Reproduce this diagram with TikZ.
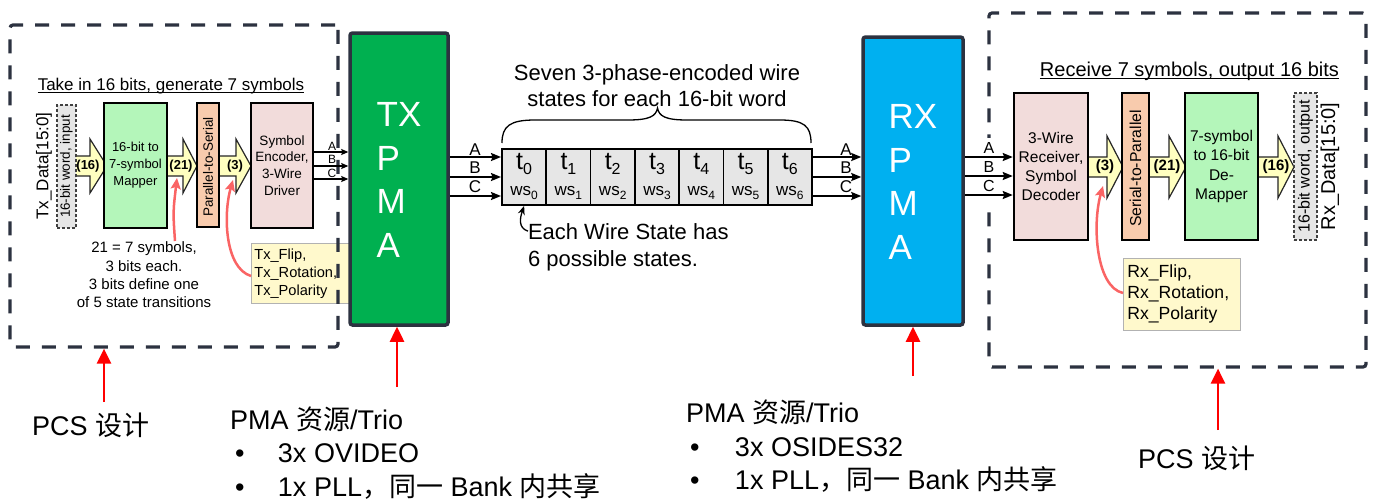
\documentclass[tikz,border=0pt]{standalone}
\usepackage{fontspec}
\setmainfont{Liberation Sans}
\newfontfamily\cjk{Noto Sans CJK SC}
\usetikzlibrary{arrows.meta}
\definecolor{frame}{RGB}{44,50,64}
\definecolor{txgreen}{RGB}{0,176,80}
\definecolor{rxblue}{RGB}{0,176,240}
\definecolor{lgreen}{RGB}{180,246,186}
\definecolor{peach}{RGB}{248,203,173}
\definecolor{lpink}{RGB}{242,220,219}
\definecolor{yell}{RGB}{255,255,192}
\definecolor{notey}{RGB}{255,249,204}
\definecolor{salmon}{RGB}{250,100,100}
\definecolor{cellgray}{RGB}{230,230,230}
\newcommand\fsz[2]{\fontsize{#1}{#2}\selectfont}
\newcommand\mysub[3]{#1\raisebox{-0.22em}{\fsz{#3}{#3}#2}}
\tikzset{
 dashframe/.style={draw=frame, line width=3.2pt, dash pattern=on 14pt off 12pt, rounded corners=3pt, inner sep=0pt},
 pma/.style={draw=frame, line width=3.5pt, rounded corners=2.5pt, inner sep=0pt},
 blk/.style={draw=black, line width=2.5pt, inner sep=0pt},
 iobox/.style={draw=black!75, line width=1.3pt, dash pattern=on 3pt off 2pt, fill=cellgray, inner sep=0pt},
 yarr/.style={draw=black!85, line width=1.2pt, fill=yell},
 lbl/.style={inner sep=0pt, outer sep=0pt},
 notebox/.style={draw=black!30, line width=0.8pt, fill=notey, align=left},
 wcell/.style={draw=black, line width=1.6pt, fill=cellgray, inner sep=0pt},
 sig/.style={line width=1.8pt, -{Stealth[length=10pt,width=8pt,inset=1.5pt]}},
 sigs/.style={line width=1.2pt, -{Stealth[length=7pt,width=6pt,inset=1pt]}},
 redarr/.style={draw=red, line width=2.5pt, -{Triangle[length=15pt,width=14pt]}},
 pinkarr/.style={draw=salmon, line width=2.5pt, -{Stealth[length=11pt,width=10pt,inset=2pt]}},
 bigtxt/.style={font=\fsz{27}{33}},
}
\newcommand\yarrow[6]{\draw[yarr] ({#1},{#4-#5}) -- ({#2},{#4-#5}) -- ({#2},{#4-#6}) -- ({#3},{#4}) -- ({#2},{#4+#6}) -- ({#2},{#4+#5}) -- ({#1},{#4+#5}) -- cycle;}
\begin{document}
\begin{tikzpicture}[x=1pt,y=-1pt]
\fill[white] (0,0) rectangle (1373,499);
\useasboundingbox (0,0) rectangle (1373,499);

%% ---------- left PCS ----------
\node[lbl, anchor=base, font=\fsz{17}{20}] (hdrL) at (171,90) {Take in 16 bits, generate 7 symbols};
\draw[line width=0.9pt] ([yshift=-2pt]hdrL.base west) -- ([yshift=-2pt]hdrL.base east);

\yarrow{75}{90}{107}{166}{10}{27}
\yarrow{166}{183}{197}{166}{10}{27}
\yarrow{219}{236}{251}{166}{10}{27}

\node[iobox, minimum width=19pt, minimum height=123pt] (inbox) at (66.5,166.5) {};
\node[lbl, rotate=90, font=\fsz{13.4}{14}] (inlbl) at (inbox.center) {16-bit word, input};
\node[lbl, rotate=90, font=\fsz{17}{18}] (txdata) at (44,166) {Tx\_Data[15:0]};
\node[blk, fill=lgreen, minimum width=63pt, minimum height=125pt, align=center, font=\fsz{13}{17}] (map) at (135.5,165.5) {16-bit to\\7-symbol\\Mapper};
\node[blk, fill=peach, minimum width=22pt, minimum height=124pt] (p2s) at (208,165) {};
\node[lbl, rotate=90, font=\fsz{13.5}{14}] (p2st) at (208,167) {Parallel-to-Serial};
\node[blk, fill=lpink, minimum width=62pt, minimum height=125pt, align=center, font=\fsz{13.5}{16.7}] (enc) at (282,165.5) {Symbol\\Encoder,\\3-Wire\\Driver};

\node[lbl, font=\bfseries\fsz{13}{13}] (l16) at (88,166) {(16)};
\node[lbl, font=\bfseries\fsz{13}{13}] (l21) at (181,166) {(21)};
\node[lbl, font=\bfseries\fsz{13}{13}] (l3) at (235,166) {(3)};

\node[lbl, align=center, font=\fsz{15}{18.3}] (n21) at (144,275) {21 = 7 symbols,\\3 bits each.\\3 bits define one\\of 5 state transitions};
\node[notebox, anchor=north west, minimum width=101pt, minimum height=60pt, text width=95pt, inner sep=3pt, font=\fsz{14.6}{18}] (txflip) at (251,243) {Tx\_Flip,\\Tx\_Rotation,\\Tx\_Polarity};

\coordinate (q1) at (175,241);
\coordinate (q1e) at (177,178);
\draw[pinkarr] (q1) .. controls (173,212) .. (q1e);
\coordinate (q2e) at (233,180);
\draw[pinkarr] (txflip.west |- 0,276) .. controls (225,268) and (223,215) .. (q2e);

\node[dashframe, minimum width=328pt, minimum height=322pt] (pcsL) at (174,186) {};

%% ---------- TX PMA ----------
\node[pma, fill=txgreen, minimum width=98pt, minimum height=292pt] (txpma) at (399,179) {};
\node[lbl, align=left, text=white, font=\fsz{35}{43.7}] (txt) at (399,180) {TX\\P\\M\\A};

\foreach \yy/\lab/\ly in {152/A/146,166/B/159.5,179/C/173}{
 \draw[sigs] (enc.east |- 0,\yy) -- (txpma.west |- 0,\yy);
 \node[lbl, font=\fsz{12}{12}] (sl\lab) at (332,\ly) {\lab};
}

%% ---------- RX PMA ----------
\node[pma, fill=rxblue, minimum width=100pt, minimum height=288pt] (rxpma) at (913,181) {};
\node[lbl, align=left, text=white, font=\fsz{35}{43.7}] (rxt) at (913,182) {RX\\P\\M\\A};

%% ---------- middle ----------
\foreach \i in {0,...,6}{
 \pgfmathsetmacro\cx{502+44.2857*(\i+0.5)}
 \node[wcell, minimum width=44.29pt, minimum height=56pt] (c\i) at (\cx,177) {};
 \node[lbl, font=\fsz{25}{25}] (t\i) at (\cx,164) {\mysub{t}{\i}{16}};
 \node[lbl, font=\fsz{17}{17}] (w\i) at (\cx,193) {\mysub{ws}{\i}{12}};
}
\node[draw=black, line width=2pt, minimum width=310pt, minimum height=56pt, inner sep=0pt] (row) at (657,177) {};

\foreach \yy in {157,177,196}{
 \draw[sig] (txpma.east |- 0,\yy) -- (row.west |- 0,\yy);
 \draw[sig] (row.east |- 0,\yy) -- (rxpma.west |- 0,\yy);
}
\foreach \lab/\ly in {A/150,B/167.5,C/187}{
 \node[lbl, font=\fsz{17}{17}] (ml\lab) at (475,\ly) {\lab};
 \node[lbl, font=\fsz{17}{17}] (mr\lab) at (846,\ly) {\lab};
}

\draw[line width=1.3pt] (502,143) .. controls (502,126) and (510,120) .. (535,120) -- (628,120)
  .. controls (650,120) and (656,116) .. (657.5,108) .. controls (659,116) and (665,120) .. (687,120)
  -- (780,120) .. controls (804,120) and (811,126) .. (811,143);

\node[lbl, align=center, font=\fsz{22}{26}] (seven) at (657,86) {Seven 3-phase-encoded wire\\states for each 16-bit word};
\node[lbl, anchor=base west, font=\fsz{22}{22}] (ew1) at (528,239) {Each Wire State has};
\node[lbl, anchor=base west, font=\fsz{22}{22}] (ew2) at (528,266) {6 possible states.};
\draw[line width=1.3pt, -{Stealth[length=9pt,width=7pt]}] (ew1.west) .. controls (518,228) and (520,218) .. (c0.south);

%% ---------- right PCS ----------
\node[lbl, anchor=base, font=\fsz{20}{22}] (hdrR) at (1189.5,76) {Receive 7 symbols, output 16 bits};
\draw[line width=0.9pt] ([yshift=-2pt]hdrR.base west) -- ([yshift=-2pt]hdrR.base east);

\yarrow{1088}{1107}{1123}{167}{10}{31}
\yarrow{1149}{1169}{1186}{167}{10}{31}
\yarrow{1258}{1278}{1294}{167}{10}{31}

\node[blk, fill=lpink, minimum width=74pt, minimum height=147pt, align=center, font=\fsz{15.5}{19.3}] (dec) at (1051,166.5) {3-Wire\\Receiver,\\Symbol\\Decoder};
\node[blk, fill=peach, minimum width=27pt, minimum height=147pt] (s2p) at (1135.5,166.5) {};
\node[lbl, rotate=90, font=\fsz{15.8}{16}] (s2pt) at (1135.5,168.5) {Serial-to-Parallel};
\node[blk, fill=lgreen, minimum width=73pt, minimum height=147pt, align=center, font=\fsz{15.5}{19.3}] (demap) at (1221.5,166.5) {7-symbol\\to 16-bit\\De-\\Mapper};
\node[iobox, minimum width=23pt, minimum height=147pt] (outbox) at (1305.5,166.5) {};
\node[lbl, rotate=90, font=\fsz{16}{16}] (outlbl) at (outbox.center) {16-bit word, output};
\node[lbl, rotate=90, font=\fsz{20}{20}] (rxdata) at (1330,166.5) {Rx\_Data[15:0]};

\node[lbl, font=\bfseries\fsz{15}{15}] (r3) at (1105,167) {(3)};
\node[lbl, font=\bfseries\fsz{15}{15}] (r21) at (1167,167) {(21)};
\node[lbl, font=\bfseries\fsz{15}{15}] (r16) at (1276,167) {(16)};

\node[notebox, anchor=north west, minimum width=117pt, minimum height=72pt, text width=109pt, inner sep=4pt, font=\fsz{17.6}{21}] (rxflip) at (1123,258) {Rx\_Flip,\\Rx\_Rotation,\\Rx\_Polarity};
\coordinate (q3e) at (1103,186);
\draw[pinkarr] (rxflip.west |- 0,293) .. controls (1096,287) and (1092,225) .. (q3e);

\node[dashframe, minimum width=377pt, minimum height=354pt] (pcsR) at (1177.5,190) {};
\fill[white] (966,138) rectangle (1012,208);
\foreach \yy/\lab/\ly in {157/A/148,176/B/167,195/C/186}{
 \draw[sig] (rxpma.east |- 0,\yy) -- (dec.west |- 0,\yy);
 \node[lbl, font=\fsz{16}{16}] (rl\lab) at (989,\ly) {\lab};
}

%% ---------- bottom notes ----------
\node[lbl, anchor=base west, bigtxt] (pcsLt) at (32,435) {PCS {\cjk 设计}};
\node[lbl, anchor=base west, bigtxt] (pmaL1) at (230,429) {PMA {\cjk 资源}/Trio};
\node[lbl, anchor=base west, bigtxt] (pmaL2) at (235,462) {\makebox[43pt][l]{•}3x OVIDEO};
\node[lbl, anchor=base west, bigtxt] (pmaL3) at (235,496) {\makebox[43pt][l]{•}1x PLL{\cjk ，同一} Bank {\cjk 内共享}};
\node[lbl, anchor=base west, bigtxt] (pmaR1) at (686,422) {PMA {\cjk 资源}/Trio};
\node[lbl, anchor=base west, bigtxt] (pmaR2) at (690,456) {\makebox[45pt][l]{•}3x OSIDES32};
\node[lbl, anchor=base west, bigtxt] (pmaR3) at (690,489) {\makebox[45pt][l]{•}1x PLL{\cjk ，同一} Bank {\cjk 内共享}};
\node[lbl, anchor=base west, bigtxt] (pcsRt) at (1138,468) {PCS {\cjk 设计}};

\coordinate (ra1) at (104,402);
\draw[redarr] (ra1) -- (ra1 |- pcsL.south);
\coordinate (ra2) at (397,387);
\draw[redarr] (ra2) -- (ra2 |- txpma.south);
\coordinate (ra3) at (913,376);
\draw[redarr] (ra3) -- (ra3 |- rxpma.south);
\coordinate (ra4) at (1218,430);
\draw[redarr] (ra4) -- (ra4 |- pcsR.south);
\end{tikzpicture}
\end{document}
